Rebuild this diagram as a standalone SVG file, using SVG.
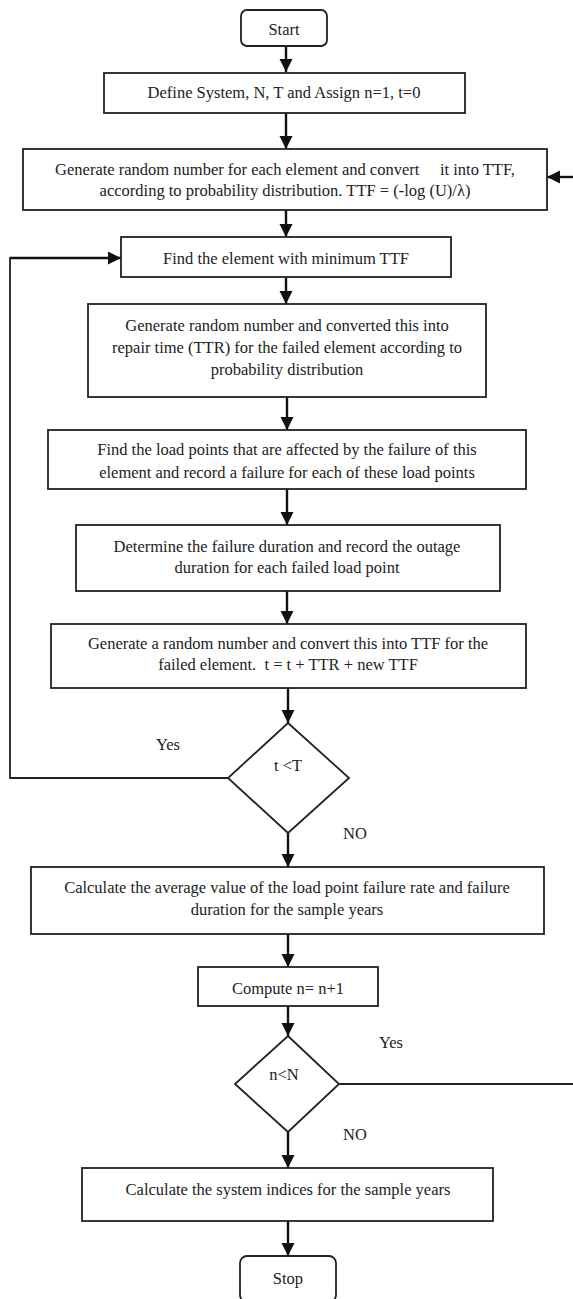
<svg xmlns="http://www.w3.org/2000/svg" width="573" height="1299" viewBox="0 0 573 1299">
<style>
.box{fill:#fff;stroke:#222;stroke-width:1.8}
.t{font-family:"Liberation Serif","Times New Roman",serif;font-size:16.5px;fill:#222;text-anchor:middle}
.c{fill:none;stroke:#111;stroke-width:2.4}
.l{fill:none;stroke:#222;stroke-width:1.8}
</style>
<defs>
<marker id="ah" markerUnits="userSpaceOnUse" markerWidth="14" markerHeight="14" refX="13" refY="6.5" orient="auto">
<path d="M0,0 L13,6.5 L0,13 z" fill="#111"/>
</marker>
</defs>
<rect width="573" height="1299" fill="#fff"/>
<g id="connectors">
<line class="c" x1="286" y1="46" x2="286" y2="72" marker-end="url(#ah)"/>
<line class="c" x1="286" y1="113" x2="286" y2="149" marker-end="url(#ah)"/>
<line class="c" x1="573" y1="177" x2="547" y2="177" marker-end="url(#ah)"/>
<line class="c" x1="286" y1="210" x2="286" y2="237" marker-end="url(#ah)"/>
<line class="c" x1="286" y1="277" x2="286" y2="304" marker-end="url(#ah)"/>
<line class="c" x1="287" y1="397" x2="287" y2="430" marker-end="url(#ah)"/>
<line class="c" x1="287" y1="489" x2="287" y2="525" marker-end="url(#ah)"/>
<line class="c" x1="287" y1="591" x2="287" y2="624" marker-end="url(#ah)"/>
<line class="c" x1="288" y1="688" x2="288" y2="723" marker-end="url(#ah)"/>
<polyline class="l" points="228,778 10,778 10,258 60,258"/>
<line class="c" x1="10" y1="258" x2="121" y2="258" marker-end="url(#ah)"/>
<line class="c" x1="288" y1="833" x2="288" y2="867" marker-end="url(#ah)"/>
<line class="c" x1="288" y1="934" x2="288" y2="967" marker-end="url(#ah)"/>
<line class="c" x1="288" y1="1006" x2="288" y2="1036" marker-end="url(#ah)"/>
<line class="l" x1="339" y1="1084" x2="573" y2="1084"/>
<line class="c" x1="288" y1="1132" x2="288" y2="1168" marker-end="url(#ah)"/>
<line class="c" x1="288" y1="1221" x2="288" y2="1256" marker-end="url(#ah)"/>
<text class="t" x="168" y="750">Yes</text>
<text class="t" x="355" y="839">NO</text>
<text class="t" x="391" y="1048">Yes</text>
<text class="t" x="355" y="1140">NO</text>
</g>
<g id="start">
<rect class="box" x="241" y="10" width="86" height="36" rx="6"/>
<text class="t" x="284" y="35">Start</text>
</g>
<g id="define">
<rect class="box" x="104" y="73" width="361" height="40"/>
<text class="t" x="284" y="98">Define System, N, T and Assign n=1, t=0</text>
</g>
<g id="generate">
<rect class="box" x="23" y="149" width="524" height="61"/>
<text class="t" x="285" y="175" xml:space="preserve">Generate random number for each element and convert     it into TTF,</text>
<text class="t" x="285" y="196">according to probability distribution. TTF = (-log (U)/λ)</text>
</g>
<g id="findmin">
<rect class="box" x="121" y="237" width="330" height="40"/>
<text class="t" x="286" y="264">Find the element with minimum TTF</text>
</g>
<g id="ttr">
<rect class="box" x="88" y="304" width="398" height="93"/>
<text class="t" x="287" y="331">Generate random number and converted this into</text>
<text class="t" x="287" y="353">repair time (TTR) for the failed element according to</text>
<text class="t" x="287" y="375">probability distribution</text>
</g>
<g id="loadpoints">
<rect class="box" x="48" y="430" width="478" height="59"/>
<text class="t" x="287" y="455">Find the load points that are affected by the failure of this</text>
<text class="t" x="287" y="478">element and record a failure for each of these load points</text>
</g>
<g id="duration">
<rect class="box" x="76" y="525" width="424" height="66"/>
<text class="t" x="287" y="552">Determine the failure duration and record the outage</text>
<text class="t" x="287" y="573">duration for each failed load point</text>
</g>
<g id="newttf">
<rect class="box" x="51" y="624" width="475" height="64"/>
<text class="t" x="288" y="649">Generate a random number and convert this into TTF for the</text>
<text class="t" x="288" y="670" xml:space="preserve">failed element.  t = t + TTR + new TTF</text>
</g>
<g id="decision1">
<polygon class="box" points="288,723 349,778 288,833 228,778"/>
<text class="t" x="288" y="771">t &lt;T</text>
</g>
<g id="average">
<rect class="box" x="31" y="867" width="513" height="67"/>
<text class="t" x="287" y="893">Calculate the average value of the load point failure rate and failure</text>
<text class="t" x="287" y="915">duration for the sample years</text>
</g>
<g id="compute">
<rect class="box" x="198" y="967" width="180" height="39"/>
<text class="t" x="288" y="994">Compute n= n+1</text>
</g>
<g id="decision2">
<polygon class="box" points="288,1036 339,1084 288,1132 235,1084"/>
<text class="t" x="284" y="1080">n&lt;N</text>
</g>
<g id="indices">
<rect class="box" x="82" y="1168" width="411" height="53"/>
<text class="t" x="288" y="1195">Calculate the system indices for the sample years</text>
</g>
<g id="stop">
<rect class="box" x="240" y="1256" width="96" height="46" rx="7"/>
<text class="t" x="288" y="1284">Stop</text>
</g>
</svg>
